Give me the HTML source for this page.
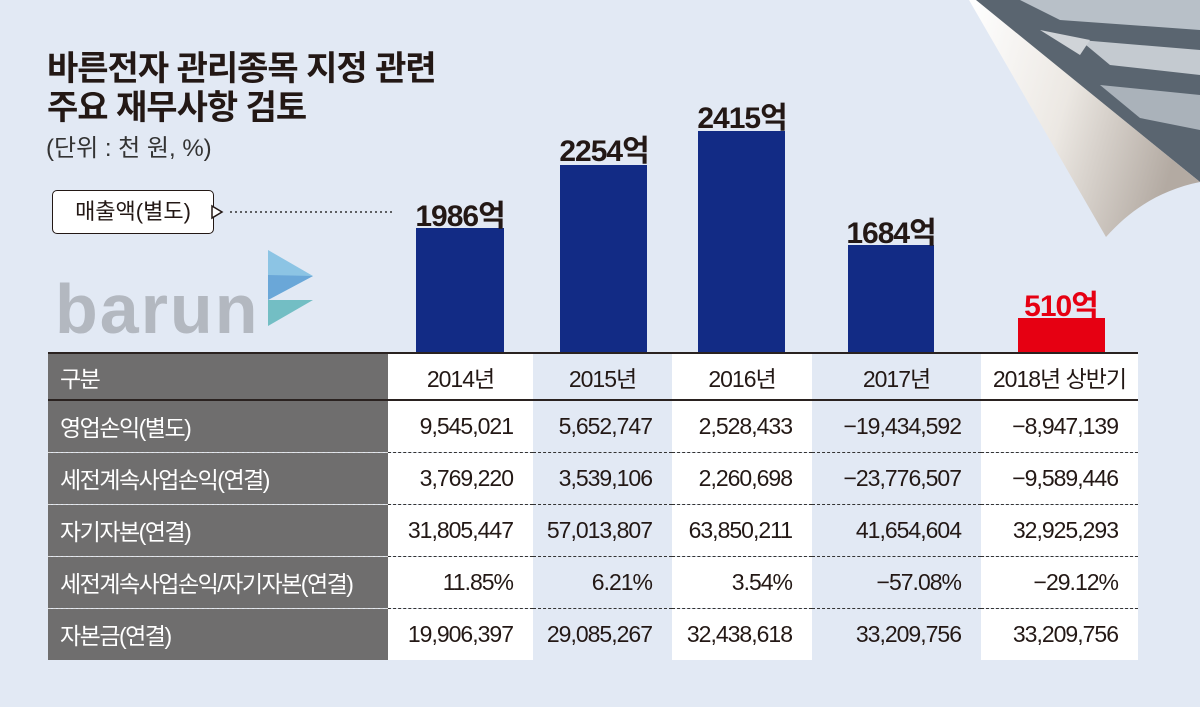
<!DOCTYPE html>
<html><head><meta charset="utf-8">
<style>
html,body{margin:0;padding:0}
body{width:1200px;height:707px;background:#e2e9f4;position:relative;overflow:hidden;font-family:"Liberation Sans","Noto Sans CJK KR",sans-serif}
.abs{position:absolute}
.t{font-weight:bold;font-size:34px;color:#231815;left:47px;letter-spacing:-1px;line-height:42px}
.bar{position:absolute;background:#122b85}
.lbl{position:absolute;font-weight:bold;font-size:30px;color:#231815;text-align:center;width:140px;letter-spacing:-1px}
table{position:absolute;left:48px;top:352px;border-collapse:collapse;width:1090px;table-layout:fixed}
td{height:52px;padding:0;font-size:23px;color:#231815;text-align:right;padding-right:20px;border-bottom:1px dashed #333;letter-spacing:-1px;white-space:nowrap;overflow:hidden;box-sizing:border-box}
td.h{background:#6f6e6e;color:#fff;text-align:left;padding-left:12px;font-size:23px;border-bottom:1px dashed #ddd;letter-spacing:-1.5px}
tr:first-child td{border-top:2px solid #2a2220;border-bottom:2px solid #2a2220;height:47px;text-align:center;padding-right:0}
tr:first-child td.h{text-align:left}
tr:last-child td{border-bottom:none}
.w{background:#fff}
</style></head><body>
<div class="abs t" style="top:48px">바른전자 관리종목 지정 관련</div>
<div class="abs t" style="top:87px">주요 재무사항 검토</div>
<div class="abs" style="left:46px;top:128px;font-size:24px;color:#333">(단위 : 천 원, %)</div>
<div class="abs" style="left:52px;top:190px;width:160px;height:42px;border:1.5px solid #231815;border-radius:5px;background:#fff;font-size:22px;line-height:42px;text-align:center;color:#231815">매출액(별도)</div>
<svg class="abs" style="left:0;top:0" width="1200" height="707">
<polygon points="212,206 222,212 212,218" fill="#fff" stroke="#231815" stroke-width="1.5"/>
<line x1="230" y1="212" x2="392" y2="212" stroke="#333" stroke-width="1.5" stroke-dasharray="2,3"/>
<text x="55" y="333" font-family="Liberation Sans,sans-serif" font-weight="bold" font-size="70" fill="#b3b8c0" letter-spacing="2">barun</text>
<polygon points="268,250 313,276 268,300" fill="#8cc4e4"/>
<polygon points="268,275 313,276 268,300" fill="#6aa7d8"/>
<polygon points="268,300 313,300 268,326" fill="#73bec4"/>
<polygon points="975,0 1200,0 1200,182" fill="#5a6570"/>
<polygon points="1020,0 1200,0 1200,30 1060,20" fill="#b8c0c8"/>
<polygon points="1080,40 1200,50 1200,75 1110,65" fill="#c4cad0"/>
<polygon points="1100,85 1200,95 1200,130 1140,118" fill="#aab2ba"/>
<polygon points="1040,30 1090,40 1080,55" fill="#d0d4d8"/>
<defs><linearGradient id="g" x1="0" y1="0" x2="1" y2="0.3"><stop offset="0" stop-color="#fff"/><stop offset="0.5" stop-color="#ece8e3"/><stop offset="1" stop-color="#b3aaa2"/></linearGradient></defs>
<path d="M969,0 L976,0 L1200,182 C1160,190 1130,210 1106,237 Z" fill="url(#g)"/>
</svg>
<div class="bar" style="left:416px;top:228px;width:88px;height:124px"></div>
<div class="bar" style="left:560px;top:165px;width:87px;height:187px"></div>
<div class="bar" style="left:698px;top:131px;width:87px;height:221px"></div>
<div class="bar" style="left:848px;top:245px;width:86px;height:107px"></div>
<div class="bar" style="left:1018px;top:318px;width:87px;height:34px;background:#e60012"></div>
<div class="lbl" style="left:390px;top:191px">1986억</div>
<div class="lbl" style="left:534px;top:126px">2254억</div>
<div class="lbl" style="left:672px;top:93px">2415억</div>
<div class="lbl" style="left:821px;top:208px">1684억</div>
<div class="lbl" style="left:991px;top:281px;color:#e60012">510억</div>
<table>
<colgroup><col style="width:340px"><col style="width:145px"><col style="width:139px"><col style="width:140px"><col style="width:169px"><col style="width:157px"></colgroup>
<tr><td class="h">구분</td><td class="w">2014년</td><td>2015년</td><td class="w">2016년</td><td>2017년</td><td class="w">2018년 상반기</td></tr>
<tr><td class="h">영업손익(별도)</td><td class="w">9,545,021</td><td>5,652,747</td><td class="w">2,528,433</td><td>−19,434,592</td><td class="w">−8,947,139</td></tr>
<tr><td class="h">세전계속사업손익(연결)</td><td class="w">3,769,220</td><td>3,539,106</td><td class="w">2,260,698</td><td>−23,776,507</td><td class="w">−9,589,446</td></tr>
<tr><td class="h">자기자본(연결)</td><td class="w">31,805,447</td><td>57,013,807</td><td class="w">63,850,211</td><td>41,654,604</td><td class="w">32,925,293</td></tr>
<tr><td class="h">세전계속사업손익/자기자본(연결)</td><td class="w">11.85%</td><td>6.21%</td><td class="w">3.54%</td><td>−57.08%</td><td class="w">−29.12%</td></tr>
<tr><td class="h">자본금(연결)</td><td class="w">19,906,397</td><td>29,085,267</td><td class="w">32,438,618</td><td>33,209,756</td><td class="w">33,209,756</td></tr>
</table>
</body></html>
